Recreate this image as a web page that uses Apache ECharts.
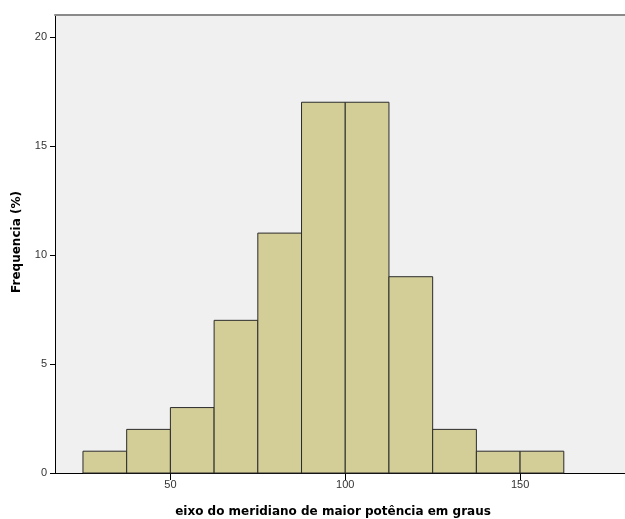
<!DOCTYPE html>
<html>
<head>
<meta charset="utf-8">
<script src="https://cdn.jsdelivr.net/npm/echarts@6/dist/echarts.min.js"></script>
<style>html,body{margin:0;padding:0;background:#fff}#c{width:625px;height:519px}</style>
</head>
<body>
<div id="c"></div>
<script>
// Bin edges (start of each bin) and frequencies (%)
var binStarts = [25, 37.5, 50, 62.5, 75, 87.5, 100, 112.5, 125, 137.5, 150];
var binWidth = 12.5;
var frequencies = [1, 2, 3, 7, 11, 17, 17, 9, 2, 1, 1];
var xTicks = [50, 100, 150];
var yTicks = [0, 5, 10, 15, 20];
var xTitle = 'eixo do meridiano de maior potência em graus';
var yTitle = 'Frequencia (%)';

var chart = echarts.init(document.getElementById('c'), null, {renderer: 'canvas'});
var data = binStarts.map(function (s, i) { return [s, s + binWidth, frequencies[i]]; });
var labelStyle = {color: '#333', fontSize: 11, fontFamily: 'Liberation Sans, Arial, sans-serif'};
var titleFont = 'bold 12px "DejaVu Sans", Verdana, sans-serif';
chart.setOption({
  animation: false,
  grid: {left: 55, top: 15, right: 0, bottom: 46, show: true, backgroundColor: '#F0F0F0', borderWidth: 0},
  xAxis: [{
    type: 'value', min: 17, max: 180, interval: 50,
    axisLine: {show: true, onZero: false, lineStyle: {color: '#000', width: 1}},
    axisTick: {show: true, length: 7, lineStyle: {color: '#000'},
      customValues: xTicks},
    axisLabel: Object.assign({margin: 6, customValues: xTicks}, labelStyle),
    splitLine: {show: false}
  }, {
    type: 'value', position: 'top', min: 17, max: 180,
    axisLine: {show: true, onZero: false, lineStyle: {color: '#8a8a8a', width: 2}},
    axisTick: {show: false}, axisLabel: {show: false}, splitLine: {show: false}
  }],
  yAxis: {
    type: 'value', min: 0, max: 21, interval: 5,
    axisLine: {show: true, onZero: false, lineStyle: {color: '#000', width: 1}},
    axisTick: {show: true, length: 5, lineStyle: {color: '#000'}, customValues: yTicks},
    axisLabel: Object.assign({margin: 8, customValues: yTicks}, labelStyle),
    splitLine: {show: false}
  },
  series: [{
    type: 'custom',
    xAxisIndex: 0,
    data: data,
    renderItem: function (params, api) {
      var p0 = api.coord([api.value(0), 0]);
      var p1 = api.coord([api.value(1), api.value(2)]);
      return {
        type: 'rect',
        shape: {x: p0[0], y: p1[1], width: p1[0] - p0[0], height: p0[1] - p1[1]},
        style: {fill: '#D3CE98', stroke: '#2b2b2b', lineWidth: 1}
      };
    },
    encode: {x: [0, 1], y: 2}
  }],
  graphic: [{
    type: 'text', x: 333, y: 512,
    style: {text: xTitle, font: titleFont, fill: '#000', align: 'center', verticalAlign: 'middle'}
  }, {
    type: 'text', x: 17, y: 242, rotation: Math.PI / 2,
    style: {text: yTitle, font: titleFont, fill: '#000', align: 'center', verticalAlign: 'middle'}
  }]
});
</script>
</body>
</html>
